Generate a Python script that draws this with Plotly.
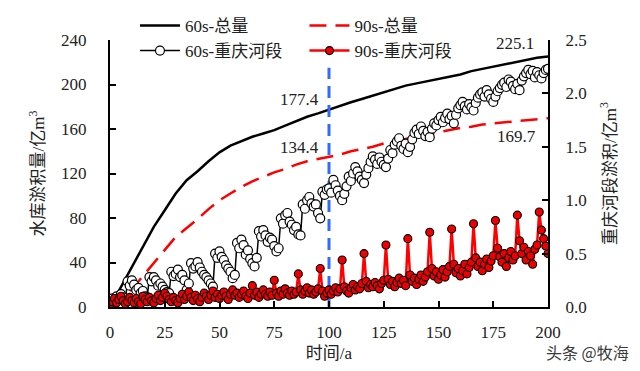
import plotly.graph_objects as go

# ---------------- data ----------------
years_5 = list(range(0, 201, 5))
total_60s = [0, 18, 37, 55, 72, 87, 102, 114, 122, 131, 139, 145, 149, 153, 156, 159,
             163, 167, 171, 174, 177.4, 181, 184, 187, 190, 193, 196, 199, 201, 203,
             205, 207, 209, 212, 214, 216, 218, 220, 222, 224, 225.1]
total_90s = [0, 5, 16, 28, 40, 52, 63, 71, 79, 88, 96, 102, 108, 113, 117, 121,
             124, 128, 131, 133, 134.4, 137, 140, 142, 144, 147, 149, 151, 153, 155,
             157, 159, 161, 162, 164, 165, 166, 167, 168, 169, 169.7]

years_1 = list(range(0, 201))
cq_60s = [
    0.06, 0.08, 0.05, 0.10, 0.07, 0.12, 0.09, 0.06, 0.24, 0.20,
    0.25, 0.21, 0.16, 0.18, 0.13, 0.15, 0.10, 0.09, 0.28, 0.24,
    0.28, 0.25, 0.20, 0.22, 0.19, 0.16, 0.14, 0.13, 0.33, 0.29,
    0.31, 0.35, 0.28, 0.30, 0.25, 0.16, 0.22, 0.41, 0.36, 0.38,
    0.42, 0.37, 0.33, 0.30, 0.28, 0.25, 0.22, 0.19, 0.50, 0.46,
    0.52, 0.47, 0.44, 0.39, 0.36, 0.33, 0.27, 0.30, 0.60, 0.55,
    0.63, 0.58, 0.49, 0.53, 0.45, 0.41, 0.38, 0.46, 0.71, 0.66,
    0.72, 0.67, 0.61, 0.65, 0.63, 0.57, 0.52, 0.55, 0.83, 0.78,
    0.86, 0.88, 0.80, 0.77, 0.72, 0.75, 0.68, 0.67, 0.96, 0.92,
    1.00, 1.03, 0.97, 0.94, 0.96, 0.88, 0.83, 1.08, 1.05, 1.10,
    1.11, 1.07, 1.19, 1.14, 1.09, 1.04, 1.00, 1.06, 1.13, 1.22,
    1.18, 1.25, 1.31, 1.27, 1.22, 1.19, 1.16, 1.24, 1.30, 1.36,
    1.41, 1.38, 1.34, 1.40, 1.36, 1.33, 1.31, 1.39, 1.47, 1.44,
    1.52, 1.55, 1.58, 1.51, 1.48, 1.53, 1.45, 1.50, 1.57, 1.63,
    1.66, 1.62, 1.69, 1.65, 1.60, 1.64, 1.59, 1.67, 1.72, 1.70,
    1.75, 1.78, 1.73, 1.77, 1.81, 1.76, 1.79, 1.72, 1.80, 1.86,
    1.89, 1.92, 1.88, 1.85, 1.90, 1.87, 1.84, 1.91, 1.96, 1.99,
    2.01, 1.97, 2.03, 1.99, 1.95, 1.92, 1.97, 2.02, 2.05, 2.08,
    2.10, 2.06, 2.13, 2.11, 2.07, 2.04, 2.09, 2.03, 2.12, 2.16,
    2.19, 2.22, 2.18, 2.21, 2.15, 2.20, 2.17, 2.14, 2.19, 2.22,
    2.23,
]
cq_90s = [
    0.02, 0.05, 0.08, 0.04, 0.07, 0.10, 0.06, 0.03, 0.05, 0.09,
    0.06, 0.04, 0.08, 0.05, 0.03, 0.10, 0.07, 0.05, 0.09, 0.06,
    0.04, 0.08, 0.11, 0.06, 0.09, 0.13, 0.10, 0.07, 0.05, 0.09,
    0.06, 0.04, 0.08, 0.12, 0.07, 0.10, 0.14, 0.09, 0.06, 0.11,
    0.08, 0.05, 0.09, 0.13, 0.10, 0.07, 0.11, 0.15, 0.09, 0.12,
    0.08, 0.11, 0.14, 0.10, 0.07, 0.12, 0.16, 0.11, 0.13, 0.09,
    0.12, 0.15, 0.10, 0.08, 0.13, 0.20, 0.11, 0.14, 0.09, 0.12,
    0.16, 0.12, 0.10, 0.14, 0.11, 0.25, 0.13, 0.10, 0.15, 0.12,
    0.17, 0.13, 0.11, 0.15, 0.12, 0.14, 0.31, 0.16, 0.12, 0.15,
    0.18, 0.13, 0.16, 0.12, 0.14, 0.17, 0.36, 0.15, 0.10, 0.13,
    0.16, 0.12, 0.15, 0.18, 0.14, 0.17, 0.44, 0.19, 0.15, 0.13,
    0.18, 0.21, 0.16, 0.19, 0.17, 0.22, 0.50, 0.24, 0.18, 0.21,
    0.19, 0.23, 0.20, 0.17, 0.22, 0.25, 0.58, 0.26, 0.21, 0.24,
    0.19, 0.23, 0.27, 0.22, 0.25, 0.20, 0.64, 0.30, 0.24, 0.27,
    0.21, 0.26, 0.30, 0.24, 0.28, 0.33, 0.70, 0.36, 0.29, 0.33,
    0.26, 0.30, 0.35, 0.28, 0.33, 0.38, 0.73, 0.40, 0.32, 0.36,
    0.29, 0.34, 0.40, 0.31, 0.37, 0.42, 0.78, 0.46, 0.38, 0.42,
    0.34, 0.40, 0.45, 0.37, 0.43, 0.48, 0.81, 0.55, 0.47, 0.42,
    0.50, 0.38, 0.46, 0.52, 0.44, 0.48, 0.86, 0.62, 0.50, 0.56,
    0.44, 0.52, 0.48, 0.40, 0.54, 0.58, 0.89, 0.72, 0.64, 0.57,
    0.50,
]

marker_year = 100
marker_line_top = 215

names = ["60s-总量", "90s-总量", "60s-重庆河段", "90s-重庆河段"]
x_title = "时间/a"
y_title = "水库淤积量/亿m<sup>3</sup>"
y2_title = "重庆河段淤积/亿m<sup>3</sup>"
watermark = "头条 @牧海"

# ---------------- figure ----------------
FONT = "Liberation Serif, 'Noto Sans CJK SC', serif"
TXT = "#222222"
FS = 17

fig = go.Figure()

fig.add_trace(go.Scatter(
    x=years_5, y=total_60s, name=names[0], mode="lines",
    line=dict(color="black", width=2.5), legend="legend", yaxis="y"))
fig.add_trace(go.Scatter(
    x=years_5, y=total_90s, name=names[1], mode="lines",
    line=dict(color="#ff0000", width=2.5, dash="17px,9px"), legend="legend2", yaxis="y"))

fig.add_trace(go.Scatter(
    x=[marker_year, marker_year], y=[0, marker_line_top], mode="lines",
    line=dict(color="#2f6bff", width=3, dash="12px,7px"), showlegend=False,
    hoverinfo="skip", yaxis="y"))

fig.add_trace(go.Scatter(
    x=years_1, y=cq_60s, name=names[2], mode="lines+markers",
    line=dict(color="black", width=1.5),
    marker=dict(size=9, color="white", line=dict(color="black", width=1.2)),
    legend="legend", yaxis="y2"))
fig.add_trace(go.Scatter(
    x=years_1, y=cq_90s, name=names[3], mode="lines+markers",
    line=dict(color="#ff0000", width=2.5),
    marker=dict(size=8, color="#ee0000", line=dict(color="black", width=1.1)),
    legend="legend2", yaxis="y2"))

i100 = years_5.index(marker_year)
ann = [
    dict(x=marker_year, y=total_60s[i100], text=f"{total_60s[i100]:.1f}", xanchor="right",
         yanchor="middle", xshift=-8, yshift=10),
    dict(x=marker_year, y=total_90s[i100], text=f"{total_90s[i100]:.1f}", xanchor="right",
         yanchor="middle", xshift=-8, yshift=10),
    dict(x=years_5[-1], y=total_60s[-1], text=f"{total_60s[-1]:.1f}", xanchor="right",
         yanchor="middle", xshift=-12, yshift=13),
    dict(x=years_5[-1], y=total_90s[-1], text=f"{total_90s[-1]:.1f}", xanchor="right",
         yanchor="middle", xshift=-10, yshift=-18),
]
annotations = []
for a in ann:
    a.update(xref="x", yref="y", showarrow=False, font=dict(family=FONT, size=FS, color=TXT))
    annotations.append(a)
annotations.append(dict(xref="paper", yref="paper", x=1.19, y=-0.169, xanchor="right",
                        yanchor="middle", text=watermark, showarrow=False,
                        font=dict(family="Noto Sans CJK SC", size=16, color="#3a3a3a")))

axis_common = dict(showline=True, linecolor="black", linewidth=2, ticks="inside",
                   ticklen=6, tickwidth=2, tickcolor="black", showgrid=False, zeroline=False,
                   automargin=False,
                   tickfont=dict(family=FONT, size=FS, color=TXT))

fig.update_layout(
    width=640, height=371,
    margin=dict(l=110, r=92, t=40, b=64, autoexpand=False),
    paper_bgcolor="white", plot_bgcolor="white",
    font=dict(family=FONT, size=FS, color=TXT),
    xaxis=dict(range=[0, 200], dtick=25, tick0=0,
               title=dict(text=x_title, standoff=6, font=dict(family=FONT, size=FS, color=TXT)),
               ticklabelstandoff=9, **axis_common),
    yaxis=dict(range=[0, 240], dtick=40, tick0=0,
               title=dict(text=y_title, standoff=12, font=dict(family=FONT, size=FS, color=TXT)),
               ticklabelstandoff=18, **axis_common),
    yaxis2=dict(range=[0, 2.5], dtick=0.5, tick0=0, overlaying="y", side="right",
                tickformat=".1f",
                title=dict(text=y2_title, standoff=18, font=dict(family=FONT, size=FS, color=TXT)),
                ticklabelstandoff=12, **axis_common),
    legend=dict(x=0.057, y=1.12, xanchor="left", yanchor="top", bgcolor="rgba(0,0,0,0)",
                font=dict(family=FONT, size=FS, color=TXT), tracegroupgap=0,
                itemwidth=40),
    legend2=dict(x=0.444, y=1.12, xanchor="left", yanchor="top", bgcolor="rgba(0,0,0,0)",
                 font=dict(family=FONT, size=FS, color=TXT), tracegroupgap=0,
                 itemwidth=40),
    annotations=annotations,
    showlegend=True,
)

fig.write_html("out.html", config={"displayModeBar": False},
               post_script="document.body.style.margin='0px';")
